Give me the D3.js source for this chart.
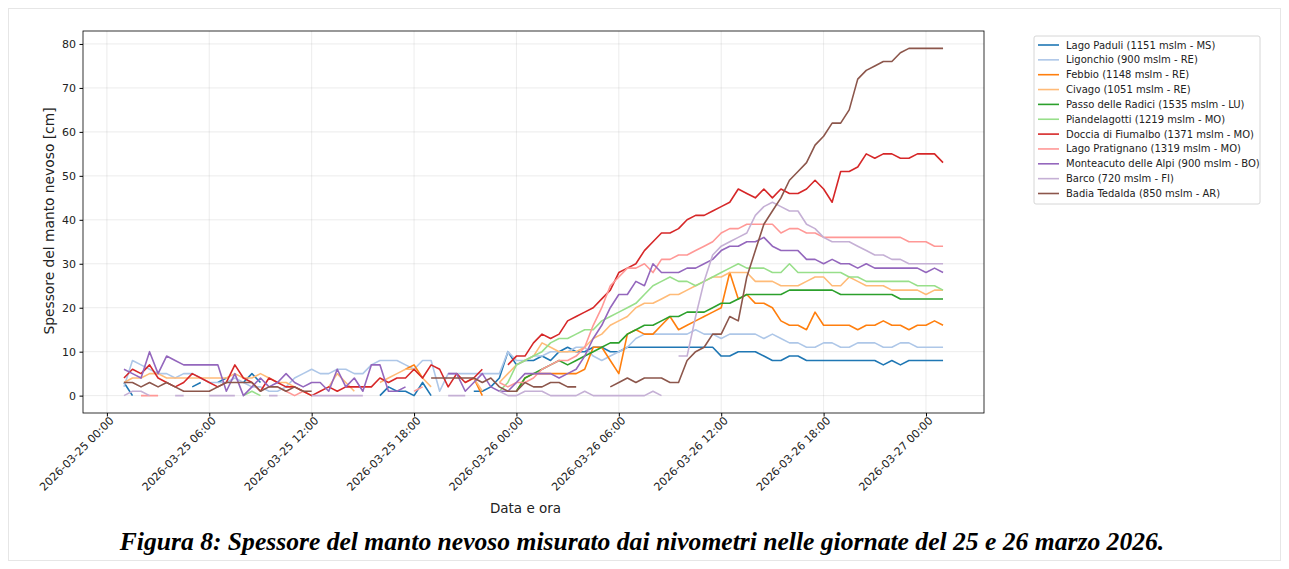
<!DOCTYPE html>
<html>
<head>
<meta charset="utf-8">
<script src="https://cdn.jsdelivr.net/npm/d3@7"></script>
<style>
    body { margin: 0; background: #fff; }
    svg text { font-family: "DejaVu Sans", sans-serif; fill: #222; }
</style>
</head>
<body>
<svg id="chart" width="1289" height="569"></svg>
<script>
// readings every 30 minutes, 2026-03-25 01:00 -> 2026-03-27 01:00 (97 per station)
var startTime = "2026-03-25T01:00:00Z";
var stepMinutes = 30;

var stations = [
    "Lago Paduli (1151 mslm - MS)",
    "Ligonchio (900 mslm - RE)",
    "Febbio (1148 mslm - RE)",
    "Civago (1051 mslm - RE)",
    "Passo delle Radici (1535 mslm - LU)",
    "Piandelagotti (1219 mslm - MO)",
    "Doccia di Fiumalbo (1371 mslm - MO)",
    "Lago Pratignano (1319 mslm - MO)",
    "Monteacuto delle Alpi (900 mslm - BO)",
    "Barco (720 mslm - FI)",
    "Badia Tedalda (850 mslm - AR)"
];
var colors = ["#1f77b4", "#aec7e8", "#ff7f0e", "#ffbb78", "#2ca02c", "#98df8a",
              "#d62728", "#ff9896", "#9467bd", "#c5b0d5", "#8c564b"];

var yTicks = [0, 10, 20, 30, 40, 50, 60, 70, 80];

// snow depth [cm], null = no reading
var lagoPaduli = [
    3,0,null,null,null,null,null,null,2,3,null,3,
    4,null,3,5,3,null,null,null,null,null,null,null,
    null,null,null,null,null,null,0,2,1,1,0,3,
    0,null,null,null,null,1,1,2,4,10,7,8,
    8,9,8,10,11,10,10,11,11,10,10,11,
    11,11,11,11,11,11,11,11,11,11,9,9,
    10,10,10,9,8,8,9,9,8,8,8,8,
    8,8,8,8,8,7,8,7,8,8,8,8,
    8];
var ligonchio = [
    2,8,7,6,5,5,4,5,5,4,3,3,
    3,4,3,2,2,1,1,2,4,5,6,5,
    5,6,6,5,5,7,8,8,8,7,6,8,
    8,1,5,5,5,5,5,5,5,10,8,8,
    9,9,10,10,10,11,11,9,8,9,10,11,
    13,14,14,14,14,14,14,15,14,14,13,14,
    14,14,14,13,14,13,12,12,11,11,12,12,
    11,11,12,12,12,11,11,12,12,11,11,11,
    11];
var febbio = [
    null,null,null,null,null,null,null,null,null,null,null,null,
    null,null,null,null,null,null,null,null,null,null,null,null,
    null,null,null,null,null,null,null,null,null,6,7,4,
    null,null,null,null,null,4,0,null,null,null,1,4,
    5,5,5,5,5,5,6,11,11,8,5,14,
    15,14,14,16,18,15,16,17,18,19,20,28,
    22,23,21,21,20,17,16,16,15,19,16,16,
    16,16,15,16,16,17,16,16,15,16,16,17,
    16];
var civago = [
    3,4,4,5,5,4,4,4,4,4,4,4,
    4,5,4,4,5,4,3,3,2,1,0,null,
    2,5,3,1,null,null,3,4,5,6,6,4,
    2,null,null,null,3,4,1,null,3,5,7,8,
    9,12,11,10,10,10,11,13,14,16,17,18,
    20,21,21,22,23,23,24,25,26,27,27,28,
    28,28,26,26,26,25,25,25,26,27,27,25,
    25,27,26,25,25,25,24,24,24,24,23,24,
    24];
var passoRadici = [
    null,null,null,null,null,null,null,null,null,null,null,null,
    null,null,null,null,null,null,null,null,null,null,null,null,
    null,null,null,null,null,null,null,null,null,null,null,null,
    null,null,null,null,null,null,null,null,null,null,1,4,
    5,6,7,8,7,8,9,10,11,12,12,14,
    15,16,16,17,18,18,19,19,19,20,21,21,
    22,23,23,23,23,23,24,24,24,24,24,24,
    23,23,23,23,23,23,23,22,22,22,22,22,
    22];
var piandelagotti = [
    null,null,null,null,null,null,null,null,null,null,null,null,
    null,null,0,1,0,null,null,null,null,null,null,null,
    null,null,null,null,null,null,null,null,null,null,null,null,
    null,null,null,null,null,null,null,null,1,3,7,8,
    9,10,12,13,13,14,15,15,17,18,19,20,
    21,23,25,26,27,26,26,25,26,27,28,29,
    30,29,29,29,28,28,30,28,28,28,28,28,
    28,27,27,26,26,26,26,26,26,25,25,25,
    24];
var docciaFiumalbo = [
    4,6,5,7,4,3,2,3,5,4,3,2,
    3,7,4,3,1,4,3,2,2,1,0,1,
    2,1,2,2,2,2,4,3,4,4,6,4,
    7,6,2,5,3,4,6,null,null,7,9,9,
    12,14,13,14,17,18,19,20,22,24,28,29,
    30,33,35,37,37,38,40,41,41,42,43,44,
    47,46,45,47,45,47,46,46,47,49,47,44,
    51,51,52,55,54,55,55,54,54,55,55,55,
    53];
var lagoPratignano = [
    null,null,0,0,0,null,null,null,null,null,null,null,
    null,null,null,null,null,null,2,1,0,1,null,null,
    null,null,null,null,null,null,null,null,null,null,1,2,
    null,null,null,null,null,null,null,null,3,2,3,3,
    4,6,7,8,8,9,11,16,20,25,27,29,
    29,30,28,31,31,32,32,33,34,35,37,38,
    38,39,39,39,39,37,38,38,37,37,36,36,
    36,36,36,36,36,36,36,36,35,35,35,34,
    34];
var monteacuto = [
    6,5,4,10,5,9,8,7,7,7,7,7,
    1,5,0,2,4,2,3,5,3,2,3,3,
    1,6,2,4,1,7,7,1,1,2,null,null,
    null,null,5,5,1,3,5,2,1,1,3,5,
    5,5,5,4,5,6,9,13,16,20,23,23,
    26,25,30,28,28,28,29,29,30,31,33,34,
    34,35,35,36,34,33,33,33,31,31,30,31,
    30,30,29,30,29,29,29,29,29,29,28,29,
    28];
var barco = [
    0,1,1,0,null,null,0,0,null,null,0,0,
    0,0,null,null,null,0,0,null,null,null,0,0,
    0,0,0,0,0,null,null,null,null,null,null,null,
    null,null,0,0,0,null,null,null,1,0,0,1,
    1,1,0,0,0,0,1,0,0,0,0,0,
    0,0,1,0,null,9,9,18,26,32,34,35,
    36,37,41,43,44,43,42,42,39,38,36,35,
    35,35,34,33,32,32,31,31,30,30,30,30,
    30];
var badiaTedalda = [
    3,3,2,3,2,3,2,1,1,1,1,2,
    3,3,3,3,1,2,2,1,2,1,1,null,
    null,null,null,null,null,null,null,null,null,null,null,null,
    4,4,4,4,4,4,3,4,2,1,1,3,
    2,2,3,3,2,2,null,null,null,2,3,4,
    3,4,4,4,3,3,8,10,11,14,14,18,
    17,27,33,39,42,45,49,51,53,57,59,62,
    62,65,72,74,75,76,76,78,79,79,79,79,
    79];

var seriesValues = [lagoPaduli, ligonchio, febbio, civago, passoRadici, piandelagotti,
                    docciaFiumalbo, lagoPratignano, monteacuto, barco, badiaTedalda];

var t0 = new Date(startTime);
var times = lagoPaduli.map(function(d, i) { return new Date(t0.getTime() + i * stepMinutes * 60000); });

// plot area (matplotlib-like layout)
var margin = {top: 31, left: 83};
var width = 901, height = 382;

var svg = d3.select("#chart");

// faint figure border
svg.append("rect")
    .attr("x", 8.5).attr("y", 8.5)
    .attr("width", 1272).attr("height", 552)
    .attr("fill", "none")
    .attr("stroke", "#e6e6e6");

var g = svg.append("g")
    .attr("transform", "translate(" + margin.left + "," + margin.top + ")");

// 5% padding around the data range, like matplotlib autoscale
var tFirst = times[0].getTime(), tLast = times[times.length - 1].getTime();
var pad = (tLast - tFirst) * 0.05;
var x = d3.scaleUtc()
    .domain([new Date(tFirst - pad), new Date(tLast + pad)])
    .range([0, width]);

var y = d3.scaleLinear()
    .domain([-3.95, 82.95])
    .range([height, 0]);

var xTicks = d3.utcHour.every(6).range(new Date(Date.UTC(2026, 2, 25, 0)), new Date(Date.UTC(2026, 2, 27, 1)));

// grid
g.append("g").selectAll("line")
    .data(xTicks).enter().append("line")
    .attr("x1", function(d) { return x(d); })
    .attr("x2", function(d) { return x(d); })
    .attr("y1", 0).attr("y2", height)
    .attr("stroke", "#b0b0b0").attr("stroke-opacity", 0.3).attr("stroke-width", 0.8);

g.append("g").selectAll("line")
    .data(yTicks).enter().append("line")
    .attr("x1", 0).attr("x2", width)
    .attr("y1", function(d) { return y(d); })
    .attr("y2", function(d) { return y(d); })
    .attr("stroke", "#b0b0b0").attr("stroke-opacity", 0.3).attr("stroke-width", 0.8);

// lines
var line = d3.line()
    .defined(function(d) { return d != null; })
    .x(function(d, i) { return x(times[i]); })
    .y(function(d) { return y(d); });

g.append("g").selectAll("path")
    .data(seriesValues).enter().append("path")
    .attr("d", line)
    .attr("fill", "none")
    .attr("stroke", function(d, i) { return colors[i]; })
    .attr("stroke-width", 1.6)
    .attr("stroke-linejoin", "round");

// axes
var fmt = d3.utcFormat("%Y-%m-%d %H:%M");

var xAxis = g.append("g")
    .attr("transform", "translate(0," + height + ")")
    .call(d3.axisBottom(x).tickValues(xTicks).tickFormat(fmt).tickSize(3.5).tickPadding(2));
xAxis.select(".domain").remove();
// rotated 45 deg, right end of the label just under the tick
xAxis.selectAll("text")
    .attr("font-size", 11)
    .style("text-anchor", "end")
    .attr("x", -1)
    .attr("y", 10.9)
    .attr("dx", 0)
    .attr("dy", 0)
    .attr("transform", "rotate(-45)");

var yAxis = g.append("g")
    .call(d3.axisLeft(y).tickValues(yTicks).tickSize(3.5).tickPadding(3.5));
yAxis.select(".domain").remove();
yAxis.selectAll("text").attr("font-size", 11);

// frame
g.append("rect")
    .attr("width", width).attr("height", height)
    .attr("fill", "none").attr("stroke", "#000").attr("stroke-width", 0.8);

// axis labels
svg.append("text")
    .attr("x", margin.left + width / 2 - 8)
    .attr("y", 513)
    .attr("text-anchor", "middle")
    .attr("font-size", 13.5)
    .text("Data e ora");

svg.append("text")
    .attr("transform", "translate(54," + (margin.top + height / 2 - 1) + ") rotate(-90)")
    .attr("text-anchor", "middle")
    .attr("font-size", 13.8)
    .text("Spessore del manto nevoso [cm]");

// legend
var legend = svg.append("g").attr("transform", "translate(1034,36)");
legend.append("rect")
    .attr("width", 226).attr("height", 168).attr("rx", 2)
    .attr("fill", "#fff").attr("stroke", "#d6d6d6");

var items = legend.selectAll(".item")
    .data(stations).enter().append("g")
    .attr("class", "item")
    .attr("transform", function(d, i) { return "translate(0," + (9 + i * 14.85) + ")"; });
items.append("line")
    .attr("x1", 4).attr("x2", 25)
    .attr("stroke", function(d, i) { return colors[i]; })
    .attr("stroke-width", 1.6);
items.append("text")
    .attr("x", 32).attr("dy", "0.35em")
    .attr("font-size", 10)
    .text(function(d) { return d; });

// caption
svg.append("text")
    .attr("x", 642).attr("y", 550)
    .attr("text-anchor", "middle")
    .style("font-family", "'Liberation Serif', 'Times New Roman', serif")
    .style("font-weight", "bold")
    .style("font-style", "italic")
    .style("fill", "#000")
    .attr("font-size", 25.6)
    .text("Figura 8: Spessore del manto nevoso misurato dai nivometri nelle giornate del 25 e 26 marzo 2026.");
</script>
</body>
</html>
